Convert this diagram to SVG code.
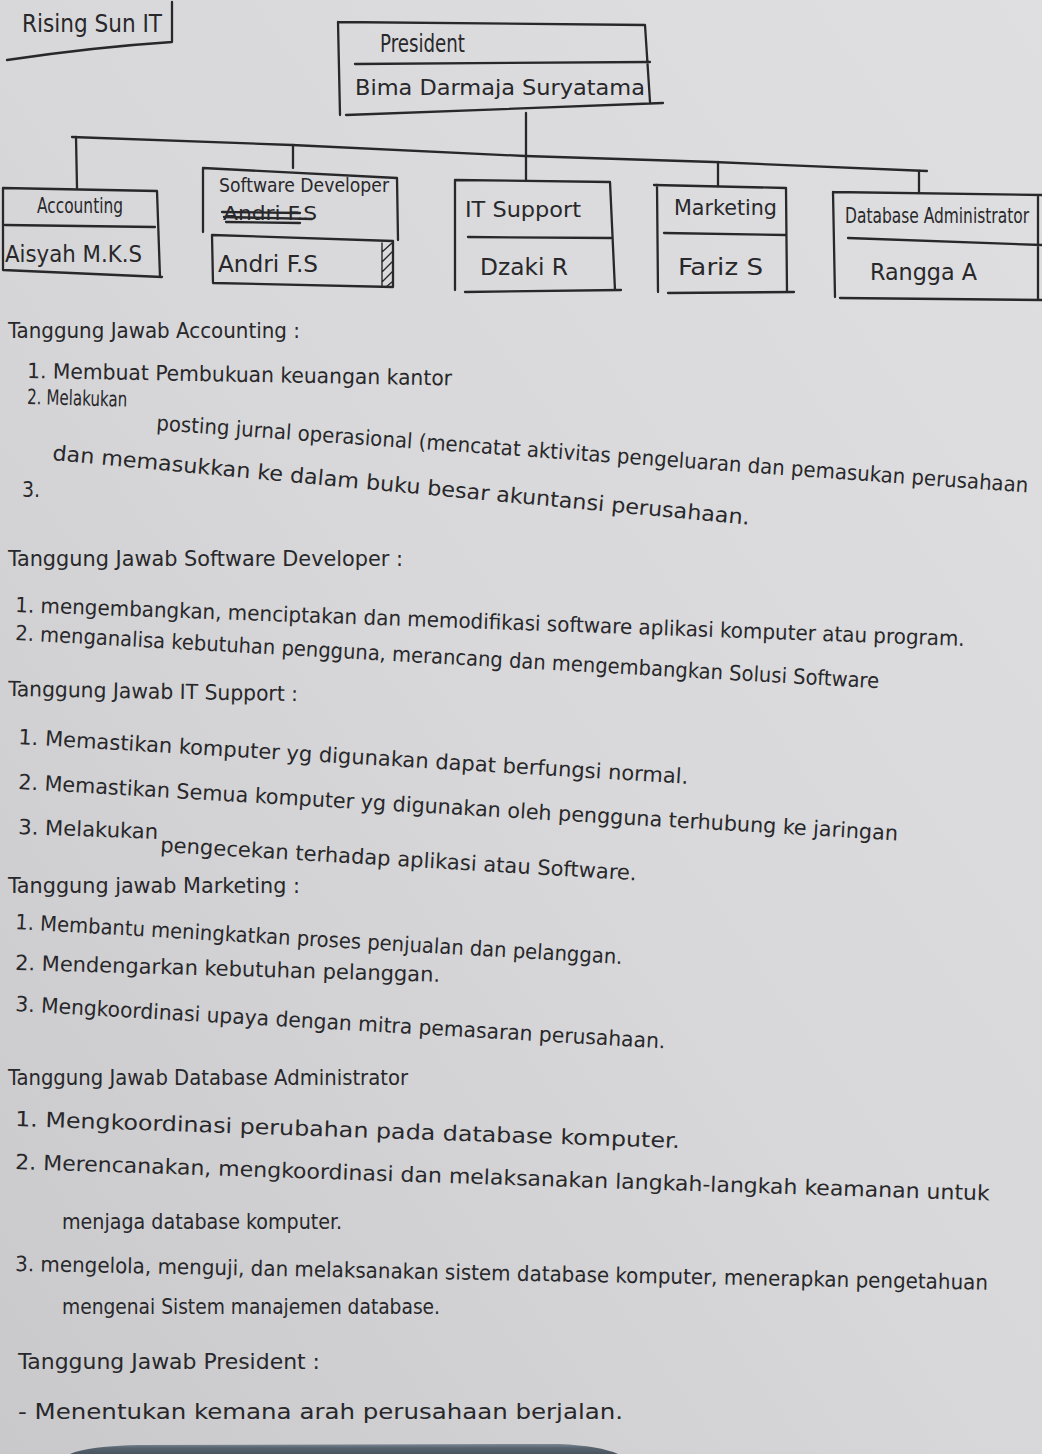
<svg xmlns="http://www.w3.org/2000/svg" width="1042" height="1454" viewBox="0 0 1042 1454">
  <defs>
    <linearGradient id="paper" x1="1" y1="0" x2="0" y2="1">
      <stop offset="0" stop-color="#dfdfe1"/>
      <stop offset="0.5" stop-color="#d8d8da"/>
      <stop offset="1" stop-color="#c9c9cc"/>
    </linearGradient>
    <linearGradient id="edge" x1="0" y1="0" x2="0" y2="1">
      <stop offset="0" stop-color="#7d8894"/>
      <stop offset="0.4" stop-color="#56626e"/>
      <stop offset="1" stop-color="#4a5560"/>
    </linearGradient>
    <style>
      .pen { stroke: #28282b; stroke-width: 2.3; fill: none; stroke-linecap: round; stroke-linejoin: round; }
      .thin { stroke: #28282b; stroke-width: 1.4; fill: none; stroke-linecap: round; }
      .ink { fill: #28282b; font-family: "DejaVu Sans Condensed", "Liberation Sans Narrow", "Liberation Sans", sans-serif; }
      .lbl { font-size: 21px; }
      .nm { font-size: 23px; }
      .body { font-size: 21px; }
    </style>
  </defs>

  <!-- paper -->
  <rect x="0" y="0" width="1042" height="1454" fill="url(#paper)"/>

  <!-- connectors: president down to the department bar and the drops -->
  <g id="connectors" class="pen">
    <path d="M526 113 L526 180"/>
    <path d="M72 137 L292 145 L525 156 L714 162 L927 171"/>
    <path d="M76 137 L77 188"/>
    <path d="M293 145 L293 168"/>
    <path d="M718 162 L718 186"/>
    <path d="M919 171 L919 193"/>
  </g>

  <!-- company title -->
  <g id="title">
    <text class="ink" x="22" y="32" font-size="24" textLength="140" lengthAdjust="spacingAndGlyphs">Rising Sun IT</text>
    <path class="pen" d="M172 2 L172 42 Q 95 47 7 60"/>
  </g>

  <!-- president -->
  <g id="president">
    <path class="pen" d="M338 22 L645 25 L650 102 M338 22 L340 115 M355 64 L650 62 M346 115 L663 103"/>
    <text class="ink" x="380" y="52" font-size="24" textLength="85" lengthAdjust="spacingAndGlyphs">President</text>
    <text class="ink" x="355" y="95" font-size="22" textLength="290" lengthAdjust="spacingAndGlyphs">Bima Darmaja Suryatama</text>
  </g>

  <!-- accounting -->
  <g id="accounting">
    <path class="pen" d="M3 188 L157 191 L160 277 M3 188 L3 270 M5 225 L155 227 M3 270 L162 277"/>
    <text class="ink lbl" x="37" y="213" textLength="86" lengthAdjust="spacingAndGlyphs">Accounting</text>
    <text class="ink nm" x="5" y="262" textLength="137" lengthAdjust="spacingAndGlyphs">Aisyah M.K.S</text>
  </g>

  <!-- software developer -->
  <g id="software-developer">
    <path class="pen" d="M203 168 L397 178 L398 240 M203 168 L203 232"/>
    <path class="pen" d="M212 235 L393 241 L393 287 M212 235 L213 283 L393 287"/>
    <text class="ink" x="219" y="192" font-size="20" textLength="170" lengthAdjust="spacingAndGlyphs">Software Developer</text>
    <text class="ink" x="223" y="220" font-size="20" textLength="94" lengthAdjust="spacingAndGlyphs">Andri F.S</text>
    <path class="pen" d="M222 212 L300 213 M224 217 L312 219 M226 222 L300 223"/>
    <text class="ink nm" x="218" y="272" textLength="100" lengthAdjust="spacingAndGlyphs">Andri F.S</text>
    <path class="thin" d="M382 243 L382 287 M382 252 L392 243 M382 262 L392 252 M382 272 L392 262 M382 282 L392 272 M386 287 L392 282"/>
  </g>

  <!-- it support -->
  <g id="it-support">
    <path class="pen" d="M455 180 L610 182 L615 290 M455 180 L455 290 M468 237 L611 238 M465 292 L621 290"/>
    <text class="ink lbl" x="465" y="217" textLength="116" lengthAdjust="spacingAndGlyphs">IT Support</text>
    <text class="ink nm" x="480" y="275" textLength="88" lengthAdjust="spacingAndGlyphs">Dzaki R</text>
  </g>

  <!-- marketing -->
  <g id="marketing">
    <path class="pen" d="M654 185 L786 188 L787 292 M657 185 L658 292 M664 233 L785 235 M668 293 L794 292"/>
    <text class="ink lbl" x="674" y="215" textLength="103" lengthAdjust="spacingAndGlyphs">Marketing</text>
    <text class="ink nm" x="678" y="275" textLength="85" lengthAdjust="spacingAndGlyphs">Fariz S</text>
  </g>

  <!-- database administrator -->
  <g id="database-administrator">
    <path class="pen" d="M833 192 L1042 195 M833 192 L835 297 M1038 195 L1038 300 M848 238 L1042 245 M840 298 L1042 300"/>
    <text class="ink lbl" x="845" y="223" textLength="184" lengthAdjust="spacingAndGlyphs">Database Administrator</text>
    <text class="ink nm" x="870" y="280" textLength="107" lengthAdjust="spacingAndGlyphs">Rangga A</text>
  </g>

  <!-- responsibilities -->
  <g id="duties" class="ink body">
    <text x="8" y="338" textLength="292" lengthAdjust="spacingAndGlyphs">Tanggung Jawab Accounting :</text>
    <text x="27" y="378" transform="rotate(1 27 378)" textLength="425" lengthAdjust="spacingAndGlyphs">1. Membuat Pembukuan keuangan kantor</text>
    <text x="27" y="404" transform="rotate(1.5 27 404)" textLength="100" lengthAdjust="spacingAndGlyphs">2. Melakukan</text>
    <text x="156" y="430" transform="rotate(4.1 156 430)" textLength="874" lengthAdjust="spacingAndGlyphs">posting jurnal operasional (mencatat aktivitas pengeluaran dan pemasukan perusahaan</text>
    <text x="52" y="460" transform="rotate(5.3 52 460)" textLength="700" lengthAdjust="spacingAndGlyphs">dan memasukkan ke dalam buku besar akuntansi perusahaan.</text>
    <text x="22" y="497">3.</text>

    <text x="8" y="566" textLength="395" lengthAdjust="spacingAndGlyphs">Tanggung Jawab Software Developer :</text>
    <text x="15" y="612" transform="rotate(2.05 15 612)" textLength="950" lengthAdjust="spacingAndGlyphs">1. mengembangkan, menciptakan dan memodifikasi software aplikasi komputer atau program.</text>
    <text x="15" y="640" transform="rotate(3.2 15 640)" textLength="865" lengthAdjust="spacingAndGlyphs">2. menganalisa kebutuhan pengguna, merancang dan mengembangkan Solusi Software</text>

    <text x="8" y="696" transform="rotate(1 8 696)" textLength="290" lengthAdjust="spacingAndGlyphs">Tanggung Jawab IT Support :</text>
    <text x="18" y="744" transform="rotate(3.4 18 744)" textLength="671" lengthAdjust="spacingAndGlyphs">1. Memastikan komputer yg digunakan dapat berfungsi normal.</text>
    <text x="18" y="789" transform="rotate(3.35 18 789)" textLength="881" lengthAdjust="spacingAndGlyphs">2. Memastikan Semua komputer yg digunakan oleh pengguna terhubung ke jaringan</text>
    <text x="18" y="834" transform="rotate(2 18 834)" textLength="140" lengthAdjust="spacingAndGlyphs">3. Melakukan</text>
    <text x="160" y="852" transform="rotate(3.4 160 852)" textLength="477" lengthAdjust="spacingAndGlyphs">pengecekan terhadap aplikasi atau Software.</text>

    <text x="8" y="893" textLength="292" lengthAdjust="spacingAndGlyphs">Tanggung jawab Marketing :</text>
    <text x="15" y="929" transform="rotate(3.3 15 929)" textLength="608" lengthAdjust="spacingAndGlyphs">1. Membantu meningkatkan proses penjualan dan pelanggan.</text>
    <text x="15" y="970" transform="rotate(1.6 15 970)" textLength="425" lengthAdjust="spacingAndGlyphs">2. Mendengarkan kebutuhan pelanggan.</text>
    <text x="15" y="1011" transform="rotate(3.3 15 1011)" textLength="651" lengthAdjust="spacingAndGlyphs">3. Mengkoordinasi upaya dengan mitra pemasaran perusahaan.</text>

    <text x="8" y="1085" textLength="400" lengthAdjust="spacingAndGlyphs">Tanggung Jawab Database Administrator</text>
    <text x="15" y="1126" transform="rotate(1.9 15 1126)" textLength="665" lengthAdjust="spacingAndGlyphs">1. Mengkoordinasi perubahan pada database komputer.</text>
    <text x="15" y="1169" transform="rotate(1.85 15 1169)" textLength="975" lengthAdjust="spacingAndGlyphs">2. Merencanakan, mengkoordinasi dan melaksanakan langkah-langkah keamanan untuk</text>
    <text x="62" y="1229" textLength="280" lengthAdjust="spacingAndGlyphs">menjaga database komputer.</text>
    <text x="15" y="1271" transform="rotate(1.1 15 1271)" textLength="973" lengthAdjust="spacingAndGlyphs">3. mengelola, menguji, dan melaksanakan sistem database komputer, menerapkan pengetahuan</text>
    <text x="62" y="1314" textLength="378" lengthAdjust="spacingAndGlyphs">mengenai Sistem manajemen database.</text>

    <text x="18" y="1369" textLength="302" lengthAdjust="spacingAndGlyphs">Tanggung Jawab President :</text>
    <text x="18" y="1419" textLength="605" lengthAdjust="spacingAndGlyphs">- Menentukan kemana arah perusahaan berjalan.</text>
  </g>

  <!-- dark edge at the foot of the sheet -->
  <path d="M70 1454 Q 88 1446 140 1445 L 560 1444 Q 600 1446 618 1454 Z" fill="url(#edge)"/>
</svg>
